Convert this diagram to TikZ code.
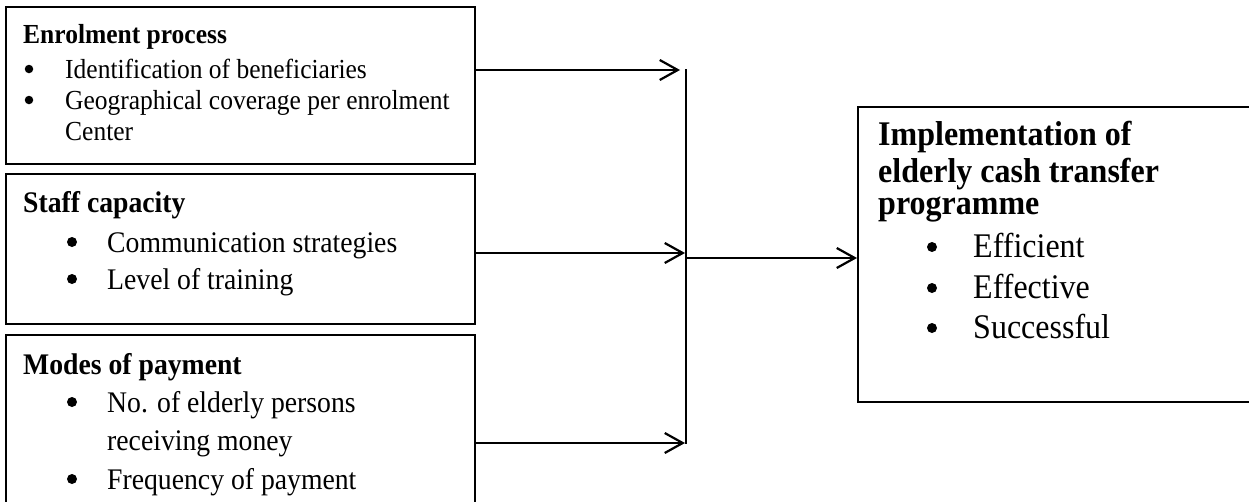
\documentclass[tikz,border=0pt]{standalone}
\usepackage{fontspec}
\setmainfont{Liberation Serif}
\usetikzlibrary{arrows.meta}
\newcommand{\ys}[1]{\scalebox{1}[1.08]{#1}}
\begin{document}
\begin{tikzpicture}[x=1pt,y=-1pt,
  box/.style={draw, line width=2pt, inner sep=0pt, anchor=north west},
  txt/.style={inner sep=0pt, anchor=base west},
  dot/.style={circle, fill=black, inner sep=0pt, minimum size=#1},
  dot/.default=9pt,
  fa/.style={font=\fontsize{25.5}{31}\selectfont},
  fb/.style={font=\fontsize{27.7}{38}\selectfont},
  fc/.style={font=\fontsize{32}{38}\selectfont},
  arr/.style={line width=2.2pt, -{Straight Barb[length=18pt,width=20pt,line width=2.2pt]}},
  bar/.style={line width=1.8pt}]
\useasboundingbox (0,0) rectangle (1249,501);
\clip (0,0) rectangle (1249,501);
% boxes
\node[box, minimum width=469pt, minimum height=157pt] (b1) at (5,6) {};
\node[box, minimum width=469pt, minimum height=150pt] (b2) at (5,173) {};
\node[box, minimum width=469pt, minimum height=230pt] (b3) at (5,334) {};
\node[box, minimum width=450pt, minimum height=295pt] (out) at (857,106) {};
% box 1 text
\node[txt,font=\fontsize{25.5}{31}\selectfont\bfseries] (t1h) at (23,43) {\ys{Enrolment process}};
\node[dot=8.5pt] (t1b1) at (29,69) {};
\node[txt,fa] (t1a) at (65,78) {\ys{Identification of beneficiaries}};
\node[dot=8.5pt] (t1b2) at (29,100) {};
\node[txt,fa] (t1c) at (65,109) {\ys{Geographical coverage per enrolment}};
\node[txt,fa] (t1d) at (65,140) {\ys{Center}};
% box 2 text
\node[txt,font=\fontsize{27.7}{38}\selectfont\bfseries] (t2h) at (23,212) {\ys{Staff capacity}};
\node[dot=10pt] (t2b1) at (72,242) {};
\node[txt,fb] (t2a) at (107,252) {\ys{Communication strategies}};
\node[dot=10pt] (t2b2) at (72,279) {};
\node[txt,fb] (t2c) at (107,289) {\ys{Level of training}};
% box 3 text
\node[txt,font=\fontsize{27.7}{38}\selectfont\bfseries] (t3h) at (23,374) {\ys{Modes of payment}};
\node[dot=10pt] (t3b1) at (72,402) {};
\node[txt,fb] (t3a) at (107,412) {\ys{No. of elderly persons}};
\node[txt,fb] (t3c) at (107,450) {\ys{receiving money}};
\node[dot=10pt] (t3b2) at (72,479) {};
\node[txt,fb] (t3d) at (107,489) {\ys{Frequency of payment}};
% output text
\node[txt,font=\fontsize{32}{38}\selectfont\bfseries] (t4h1) at (878,145) {\ys{Implementation of}};
\node[txt,font=\fontsize{32}{38}\selectfont\bfseries] (t4h2) at (878,182) {\ys{elderly cash transfer}};
\node[txt,font=\fontsize{32}{38}\selectfont\bfseries] (t4h3) at (878,214) {\ys{programme}};
\node[dot=10pt] (t4b1) at (932,247) {};
\node[txt,fc] (t4a) at (973,257) {\ys{Efficient}};
\node[dot=10pt] (t4b2) at (932,288) {};
\node[txt,fc] (t4b) at (973,298) {\ys{Effective}};
\node[dot=10pt] (t4b3) at (932,328) {};
\node[txt,fc] (t4c) at (973,338) {\ys{Successful}};
% connectors
\coordinate (j1) at (680,70);
\coordinate (j2) at (685,253);
\coordinate (j3) at (685,443);
\coordinate (vt) at (686,69);
\coordinate (vb) at (686,444);
\coordinate (jo) at (686,258);
\draw[arr] (b1.east |- j1) -- (j1);
\draw[arr] (b2.east |- j2) -- (j2);
\draw[arr] (b3.east |- j3) -- (j3);
\draw[bar] (vt) -- (vb);
\draw[arr] (jo) -- (out.west |- jo);
\end{tikzpicture}
\end{document}
